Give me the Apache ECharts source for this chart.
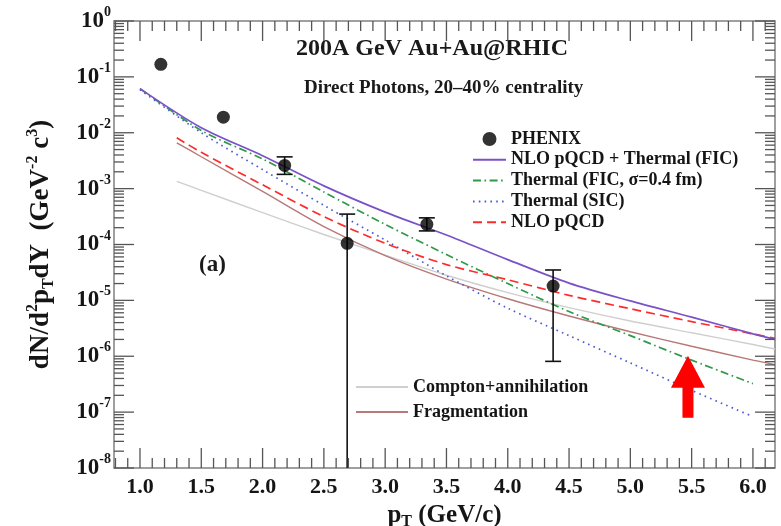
<!DOCTYPE html>
<html><head><meta charset="utf-8">
<script src="https://cdn.jsdelivr.net/npm/echarts@6/dist/echarts.min.js"></script>
<style>html,body{margin:0;padding:0;background:#fff}#c{width:781px;height:526px}</style>
</head><body><div id="c"></div>
<script>
const FONT = '"Liberation Serif", "Times New Roman", serif';

// PHENIX direct photon data (pT, value, error low, error high)
const phenixPt  = [1.17, 1.68, 2.18, 2.69, 3.34, 4.37];
const phenixVal = [0.168, 0.019, 2.6e-3, 1.05e-4, 2.3e-4, 1.8e-5];
const phenixLo  = [null, null, 1.8e-3, 1e-9, 1.75e-4, 8.1e-7];
const phenixHi  = [null, null, 3.7e-3, 3.5e-4, 3.0e-4, 3.5e-5];

// theory curves
const ptA = [1.0, 1.5, 2.0, 2.5, 3.0, 3.5, 4.0, 4.5, 5.0, 5.5, 6.0, 6.18];
const nloThermalFIC = [6.17e-2, 1.23e-2, 3.89e-3, 1.12e-3, 3.80e-4, 1.48e-4, 5.37e-5, 2.04e-5, 9.77e-6, 5.01e-6, 2.51e-6, 2.0e-6];

const ptB = [1.0, 1.5, 2.0, 2.5, 3.0, 3.5, 4.0, 4.5, 5.0, 5.5, 6.0];
const thermalFIC = [6.17e-2, 1.10e-2, 3.39e-3, 8.71e-4, 2.29e-4, 6.61e-5, 2.0e-5, 6.31e-6, 2.34e-6, 8.51e-7, 3.24e-7];
const thermalSIC = [5.89e-2, 1.0e-2, 2.19e-3, 5.01e-4, 1.20e-4, 2.75e-5, 7.24e-6, 2.34e-6, 7.59e-7, 2.45e-7, 8.32e-8];

const ptC = [1.3, 1.5, 2.0, 2.5, 3.0, 3.5, 4.0, 4.5, 5.0, 5.5, 6.0, 6.18];
const nloPQCD = [8.13e-3, 4.47e-3, 1.17e-3, 3.16e-4, 1.05e-4, 4.37e-5, 2.34e-5, 1.23e-5, 7.08e-6, 4.17e-6, 2.51e-6, 2.09e-6];
const fragmentation = [6.61e-3, 3.72e-3, 8.91e-4, 2.09e-4, 6.31e-5, 2.40e-5, 1.07e-5, 5.25e-6, 2.75e-6, 1.51e-6, 8.51e-7, 7.08e-7];
const comptonAnnihilation = [1.35e-3, 9.33e-4, 3.72e-4, 1.51e-4, 6.46e-5, 2.82e-5, 1.38e-5, 7.41e-6, 4.27e-6, 2.63e-6, 1.62e-6, 1.35e-6];

// tick labels
const xMajorTicks = [1.0, 1.5, 2.0, 2.5, 3.0, 3.5, 4.0, 4.5, 5.0, 5.5, 6.0];
const yDecades = [-8, -7, -6, -5, -4, -3, -2, -1, 0];

// red arrow annotation: pT, tip value, tail value
const arrowMark = [5.47, 1.02e-6, 7.9e-8];

const zip = (xs, ys) => xs.map((x, i) => [x, ys[i]]);

// tick marks (value, major flag)
const xTickMarks = [];
for (let i = 8; i <= 61; i++) xTickMarks.push([i / 10, i % 5 === 0 ? 1 : 0]);
const yTickMarks = [];
yDecades.forEach(d => {
  yTickMarks.push([Math.pow(10, d), 1]);
  if (d < 0) for (let k = 2; k <= 9; k++) yTickMarks.push([k * Math.pow(10, d), 0]);
});

const XMIN = 0.788, XMAX = 6.18;
const labelFont = { fontFamily: FONT, fontWeight: 'bold', color: '#151515' };
const TICK = { stroke: '#555', lineWidth: 1.3 };
const MAJ = 20, MIN = 10;

const option = {
  animation: false,
  backgroundColor: '#fff',
  grid: { left: 114, right: 6, top: 21, bottom: 58, containLabel: false, outerBoundsMode: 'none',
          show: true, borderColor: '#808080', borderWidth: 1.5, backgroundColor: 'transparent' },
  xAxis: [{
    type: 'value', min: XMIN, max: XMAX, position: 'bottom',
    axisLine: { show: false, onZero: false }, axisTick: { show: false }, splitLine: { show: false },
    axisLabel: { show: true, customValues: xMajorTicks, formatter: v => v.toFixed(1), margin: 8, fontSize: 22, ...labelFont },
    name: '{t|p}{sb|T}{t| (GeV/c)}', nameLocation: 'middle', nameGap: 26,
    nameTextStyle: { rich: {
      t: { fontSize: 25, ...labelFont },
      sb: { fontSize: 16, ...labelFont, padding: [13, 0, 0, 0] }
    } }
  }],
  yAxis: [
    { type: 'log', logBase: 10, min: 1e-8, max: 1, show: false },
    {
      type: 'value', min: -8, max: 0, position: 'left',
      axisLine: { show: false, onZero: false }, axisTick: { show: false }, splitLine: { show: false },
      axisLabel: {
        show: true, customValues: yDecades, margin: 3,
        formatter: v => '{b|10}{s|' + v + '}',
        rich: {
          b: { fontSize: 23, ...labelFont },
          s: { fontSize: 14, ...labelFont, padding: [0, 0, 17, 0] }
        }
      },
      name: '{t|dN/d}{sp|2}{t|p}{sb|T}{t|dY  (GeV}{sp|-2}{t| c}{sp|3}{t|)}',
      nameLocation: 'middle', nameRotate: 90, nameGap: 56,
      nameTextStyle: { rich: {
        t: { fontSize: 27, ...labelFont },
        sp: { fontSize: 16, ...labelFont, padding: [0, 0, 17, 0] },
        sb: { fontSize: 16, ...labelFont, padding: [14, 0, 0, 0] }
      } }
    }
  ],
  legend: [
    {
      data: ['PHENIX', 'NLO pQCD + Thermal (FIC)', 'Thermal (FIC, σ=0.4 fm)', 'Thermal (SIC)', 'NLO pQCD'],
      orient: 'vertical', left: 467, top: 125, itemWidth: 33, itemHeight: 14, itemGap: 2.8,
      selectedMode: false,
      textStyle: { fontSize: 18, ...labelFont }
    },
    {
      data: ['Compton+annihilation', 'Fragmentation'],
      orient: 'vertical', left: 350, top: 373, itemWidth: 52, itemHeight: 14, itemGap: 7,
      selectedMode: false,
      textStyle: { fontSize: 18, ...labelFont }
    }
  ],
  graphic: [
    { type: 'text', left: 296, top: 37, style: { text: '200A GeV Au+Au@RHIC', font: 'bold 24px ' + FONT, fill: '#1a1a1a' } },
    { type: 'text', left: 304, top: 79, style: { text: 'Direct Photons, 20–40% centrality', font: 'bold 19px ' + FONT, fill: '#1a1a1a' } },
    { type: 'text', left: 199, top: 254, style: { text: '(a)', font: 'bold 23px ' + FONT, fill: '#1a1a1a' } }
  ],
  series: [
    { name: 'Compton+annihilation', type: 'line', data: zip(ptC, comptonAnnihilation), smooth: 0.3, symbol: 'none',
      lineStyle: { color: '#cfcfcf', width: 1.4 }, itemStyle: { color: '#cfcfcf', opacity: 0 } },
    { name: 'Fragmentation', type: 'line', data: zip(ptC, fragmentation), smooth: 0.3, symbol: 'none',
      lineStyle: { color: '#b87878', width: 1.4 }, itemStyle: { color: '#b87878', opacity: 0 } },
    { name: 'Thermal (SIC)', type: 'line', data: zip(ptB, thermalSIC), smooth: 0.3, symbol: 'none',
      lineStyle: { color: '#4a5bd4', width: 1.7, type: [1.6, 4.2] }, itemStyle: { color: '#4a5bd4', opacity: 0 } },
    { name: 'Thermal (FIC, σ=0.4 fm)', type: 'line', data: zip(ptB, thermalFIC), smooth: 0.3, symbol: 'none',
      lineStyle: { color: '#2f9a48', width: 1.7, type: [8, 3.5, 1.6, 3.5] }, itemStyle: { color: '#2f9a48', opacity: 0 } },
    { name: 'NLO pQCD', type: 'line', data: zip(ptC, nloPQCD), smooth: 0.3, symbol: 'none',
      lineStyle: { color: '#ff2a2a', width: 1.7, type: [9, 5] }, itemStyle: { color: '#ff2a2a', opacity: 0 } },
    { name: 'NLO pQCD + Thermal (FIC)', type: 'line', data: zip(ptA, nloThermalFIC), smooth: 0.3, symbol: 'none',
      lineStyle: { color: '#7a52c8', width: 1.7 }, itemStyle: { color: '#7a52c8', opacity: 0 } },
    { name: 'PHENIX errors', type: 'custom', silent: true,
      data: phenixPt.map((p, i) => [p, phenixLo[i], phenixHi[i]]).filter(d => d[1] != null),
      renderItem: (params, api) => {
        const x = api.value(0);
        const pHi = api.coord([x, api.value(2)]);
        const pLo = api.coord([x, api.value(1)]);
        const cs = params.coordSys;
        const yBot = cs.y + cs.height;
        const half = 8;
        const st = { stroke: '#111', lineWidth: 1.6 };
        const ch = [
          { type: 'line', shape: { x1: pHi[0], y1: pHi[1], x2: pHi[0], y2: Math.min(pLo[1], yBot) }, style: st },
          { type: 'line', shape: { x1: pHi[0] - half, y1: pHi[1], x2: pHi[0] + half, y2: pHi[1] }, style: st }
        ];
        if (pLo[1] < yBot) ch.push({ type: 'line', shape: { x1: pLo[0] - half, y1: pLo[1], x2: pLo[0] + half, y2: pLo[1] }, style: st });
        return { type: 'group', children: ch };
      }, z: 5 },
    { name: 'PHENIX', type: 'scatter', data: zip(phenixPt, phenixVal), symbol: 'circle', symbolSize: 13,
      itemStyle: { color: '#000' }, z: 6 },
    { name: 'arrow', type: 'custom', silent: true, data: [arrowMark], z: 7,
      renderItem: (params, api) => {
        const tip = api.coord([api.value(0), api.value(1)]);
        const tail = api.coord([api.value(0), api.value(2)]);
        const hh = 32, hw = 17, sw = 5.5;
        const x = tip[0], y = tip[1];
        return { type: 'polygon', shape: { points: [
          [x, y], [x + hw, y + hh], [x + sw, y + hh], [x + sw, tail[1]],
          [x - sw, tail[1]], [x - sw, y + hh], [x - hw, y + hh]
        ] }, style: { fill: '#ff0000' } };
      } },
    { name: 'x ticks', type: 'custom', silent: true, data: xTickMarks, z: 8,
      renderItem: (params, api) => {
        const cs = params.coordSys;
        const x = api.coord([api.value(0), 1e-8])[0];
        const len = api.value(1) ? MAJ : MIN;
        const b = cs.y + cs.height, t = cs.y;
        return { type: 'group', children: [
          { type: 'line', shape: { x1: x, y1: b, x2: x, y2: b - len }, style: TICK },
          { type: 'line', shape: { x1: x, y1: t, x2: x, y2: t + len }, style: TICK }
        ] };
      } },
    { name: 'y ticks', type: 'custom', silent: true, data: yTickMarks, z: 8,
      renderItem: (params, api) => {
        const cs = params.coordSys;
        const y = api.coord([XMIN, api.value(0)])[1];
        const len = api.value(1) ? MAJ : MIN;
        const l = cs.x, r = cs.x + cs.width;
        return { type: 'group', children: [
          { type: 'line', shape: { x1: l, y1: y, x2: l + len, y2: y }, style: TICK },
          { type: 'line', shape: { x1: r, y1: y, x2: r - len, y2: y }, style: TICK }
        ] };
      } }
  ]
};
const chart = echarts.init(document.getElementById('c'), null, { renderer: 'canvas' });
chart.setOption(option);
</script></body></html>
